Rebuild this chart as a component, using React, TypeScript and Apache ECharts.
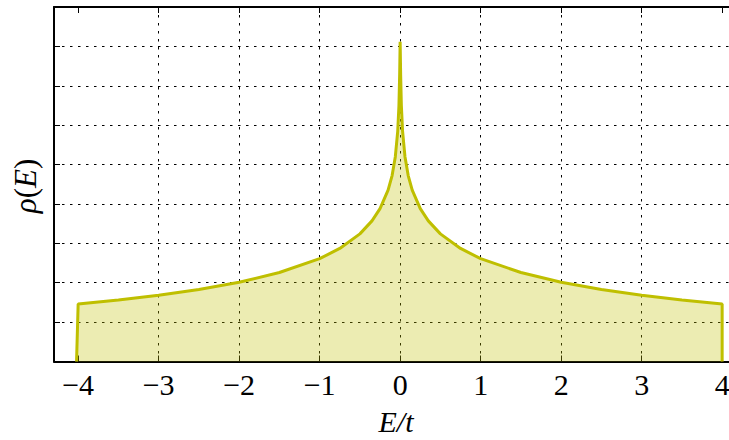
import React, { useEffect, useRef } from "react";
import * as echarts from "echarts";

// Energy E/t and density of states rho(E) (in units of the y grid spacing)
const energies = [
  -4.02, -4.0, -3.5, -3.0, -2.5, -2.0, -1.5, -1.0, -0.75, -0.5, -0.35, -0.25,
  -0.15, -0.1, -0.06, -0.03, -0.015, -0.006, 0, 0.006, 0.015, 0.03, 0.06, 0.1,
  0.15, 0.25, 0.35, 0.5, 0.75, 1.0, 1.5, 2.0, 2.5, 3.0, 3.5, 4.0, 4.0,
];
const rhoValues = [
  0, 1.46, 1.56, 1.68, 1.83, 2.01, 2.26, 2.61, 2.87, 3.24, 3.57, 3.88, 4.35,
  4.72, 5.2, 5.85, 6.5, 7.3, 8.12, 7.3, 6.5, 5.85, 5.2, 4.72, 4.35, 3.88, 3.57,
  3.24, 2.87, 2.61, 2.26, 2.01, 1.83, 1.68, 1.56, 1.46, 0,
];
const xTicks = [-4, -3, -2, -1, 0, 1, 2, 3, 4];
const xRange = [-4.3, 4.3];
const yRange = [0, 9];

const FONT = "'Liberation Serif', 'DejaVu Serif', serif";

export default function App() {
  const ref = useRef<HTMLDivElement>(null);
  useEffect(() => {
    if (!ref.current) return;
    const chart = echarts.init(ref.current, null, { renderer: "svg" });
    const data = energies.map((e, i) => [e, rhoValues[i]]);
    const dotted = { color: "#000", width: 1, type: [2.5, 5.5] as number[] };
    chart.setOption({
      animation: false,
      backgroundColor: "#fff",
      grid: { left: 54, top: 7, bottom: 78.5, right: 13.7, containLabel: false },
      xAxis: [
        {
          type: "value",
          min: xRange[0],
          max: xRange[1],
          position: "bottom",
          axisLine: { show: true, onZero: false, lineStyle: { color: "#000", width: 2 } },
          axisTick: { show: true, inside: true, length: 6, customValues: xTicks, lineStyle: { color: "#000", width: 1 } },
          axisLabel: {
            show: true,
            customValues: xTicks,
            margin: 8,
            color: "#000",
            fontSize: 30,
            lineHeight: 30,
            fontFamily: FONT,
            formatter: (v: number) => (v < 0 ? "\u2212" + Math.abs(v) : String(v)),
          },
          splitLine: { show: true, showMinLine: false, showMaxLine: false, lineStyle: dotted },
        },
        {
          type: "value",
          min: xRange[0],
          max: xRange[1],
          position: "top",
          axisLine: { show: true, onZero: false, lineStyle: { color: "#000", width: 2 } },
          axisTick: { show: true, inside: true, length: 6, customValues: xTicks, lineStyle: { color: "#000", width: 1 } },
          axisLabel: { show: false },
          splitLine: { show: false },
        },
      ],
      yAxis: {
        type: "value",
        min: yRange[0],
        max: yRange[1],
        interval: 1,
        axisLine: { show: true, onZero: false, lineStyle: { color: "#000", width: 2 } },
        axisTick: { show: true, inside: true, length: 6, lineStyle: { color: "#000", width: 1 } },
        axisLabel: { show: false },
        splitLine: { show: true, lineStyle: dotted },
      },
      series: [
        {
          type: "line",
          data,
          xAxisIndex: 0,
          showSymbol: false,
          symbol: "none",
          smooth: false,
          lineStyle: { color: "#bfbf00", width: 3 },
          itemStyle: { color: "#bfbf00" },
          areaStyle: { color: "#bfbf00", opacity: 0.3 },
          z: 1,
        },
      ],
      graphic: [
        {
          type: "text",
          x: 396,
          y: 421,
          style: {
            text: "E/t",
            font: `italic 30px ${FONT}`,
            fill: "#000",
            align: "center",
            verticalAlign: "middle",
          },
        },
        {
          type: "text",
          x: 25,
          y: 186,
          rotation: Math.PI / 2,
          style: {
            text: "{i|ρ}{n|(}{i|E}{n|)}",
            fill: "#000",
            align: "center",
            verticalAlign: "middle",
            rich: {
              i: { fontSize: 31, fontStyle: "italic", fontFamily: FONT, fill: "#000" },
              n: { fontSize: 31, fontFamily: FONT, fill: "#000" },
            },
          },
        },
      ],
    });
    return () => chart.dispose();
  }, []);
  return (
    <div style={{ position: "absolute", left: 0, top: 0, width: 729, height: 440, overflow: "hidden" }}>
      <div ref={ref} style={{ width: 760, height: 440 }} />
    </div>
  );
}
